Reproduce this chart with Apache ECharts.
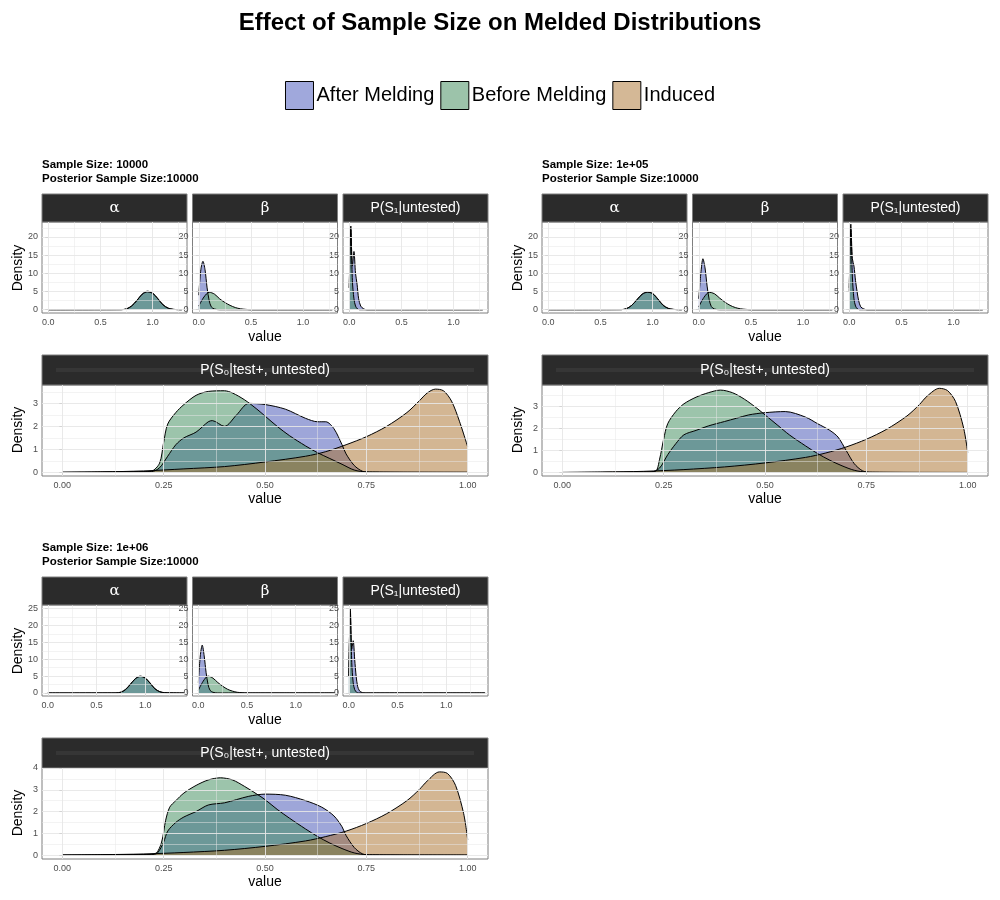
<!DOCTYPE html>
<html><head><meta charset="utf-8">
<script src="https://cdn.jsdelivr.net/npm/echarts@6/dist/echarts.min.js"></script>
<style>html,body{margin:0;padding:0;background:#fff}#c{width:1000px;height:900px}</style>
</head><body><div id="c"></div>
<script>
const seriesNames = ['After Melding','Before Melding','Induced'];
const groupTitles = [['Sample Size: 10000','Posterior Sample Size:10000'],['Sample Size: 1e+05','Posterior Sample Size:10000'],['Sample Size: 1e+06','Posterior Sample Size:10000']];
const topPanelLabels = ['α','β','P(S₁|untested)'];
const bottomPanelLabel = 'P(S₀|test+, untested)';
const topTicksX = [0,0.5,1.0];
const bottomTicksX = [0,0.25,0.5,0.75,1.0];
const topTicksY = [[0,5,10,15,20],[0,5,10,15,20],[0,5,10,15,20,25]];
const bottomTicksY = [[0,1,2,3],[0,1,2,3],[0,1,2,3,4]];

// Group 1: Sample Size 10000
const g1AlphaAfter = [[0,0],[0.7,0.02],[0.75,0.2],[0.8,1],[0.85,2.5],[0.9,4.3],[0.95,5.1],[1.0,4.6],[1.05,3],[1.1,1.3],[1.15,0.4],[1.2,0.1],[1.28,0]];
const g1AlphaBefore = [[0,0],[0.7,0.02],[0.75,0.25],[0.8,1.1],[0.85,2.6],[0.9,4.2],[0.95,4.9],[1.0,4.5],[1.05,3.1],[1.1,1.4],[1.15,0.45],[1.2,0.1],[1.28,0]];
const g1BetaAfter = [[0,4],[0.02,11],[0.04,13.3],[0.06,11],[0.08,6],[0.1,2.5],[0.12,0.8],[0.15,0.2],[0.2,0],[1.28,0]];
const g1BetaBefore = [[0,1],[0.05,3.5],[0.1,4.8],[0.15,4.3],[0.2,3],[0.25,2],[0.3,1.2],[0.35,0.6],[0.4,0.25],[0.45,0.1],[0.5,0],[1.28,0]];
const g1S1After = [[0,6],[0.015,22],[0.03,12],[0.045,16],[0.06,10],[0.075,7],[0.09,3],[0.11,1],[0.14,0.2],[0.17,0],[1.28,0]];
const g1S1Before = [[0,6],[0.015,23],[0.03,8],[0.045,3],[0.06,1],[0.08,0.2],[0.1,0],[1.28,0]];
const g1S0After = [[0,0],[0.22,0.03],[0.24,0.2],[0.26,0.7],[0.28,1.2],[0.3,1.5],[0.33,1.75],[0.36,2.2],[0.37,2.25],[0.4,2.0],[0.43,2.5],[0.46,3.0],[0.5,2.95],[0.55,2.75],[0.6,2.35],[0.63,2.2],[0.65,2.2],[0.67,1.9],[0.69,1.2],[0.7,0.8],[0.72,0.3],[0.74,0.05],[0.76,0],[1,0]];
const g1S0Before = [[0,0],[0.2,0.03],[0.22,0.05],[0.24,0.4],[0.25,1.3],[0.26,2.1],[0.28,2.6],[0.3,2.95],[0.33,3.35],[0.36,3.52],[0.4,3.55],[0.42,3.45],[0.45,3.15],[0.48,2.75],[0.5,2.45],[0.53,2.0],[0.56,1.6],[0.6,1.15],[0.63,0.85],[0.66,0.6],[0.69,0.35],[0.72,0.1],[0.75,0.02],[1,0]];
const g1S0Induced = [[0,0],[0.1,0.02],[0.2,0.06],[0.3,0.15],[0.4,0.25],[0.5,0.45],[0.6,0.7],[0.65,0.9],[0.7,1.2],[0.75,1.55],[0.8,2.0],[0.85,2.6],[0.88,3.1],[0.9,3.45],[0.92,3.62],[0.94,3.55],[0.96,3.1],[0.98,2.2],[1.0,1.1]];

// Group 2: Sample Size 1e+05
const g2AlphaAfter = [[0,0],[0.7,0.02],[0.75,0.3],[0.8,1.2],[0.85,2.7],[0.9,4.3],[0.95,4.9],[1.0,4.4],[1.05,2.9],[1.1,1.2],[1.15,0.35],[1.2,0.08],[1.28,0]];
const g2AlphaBefore = [[0,0],[0.7,0.03],[0.75,0.3],[0.8,1.2],[0.85,2.8],[0.9,4.2],[0.95,4.8],[1.0,4.5],[1.05,3.0],[1.1,1.3],[1.15,0.4],[1.2,0.1],[1.28,0]];
const g2BetaAfter = [[0,3],[0.02,10],[0.04,14],[0.06,11.5],[0.08,6.5],[0.1,2.8],[0.12,0.9],[0.15,0.2],[0.2,0],[1.28,0]];
const g2BetaBefore = [[0,0.8],[0.05,3.4],[0.1,4.8],[0.15,4.4],[0.2,3.2],[0.25,2.1],[0.3,1.2],[0.35,0.6],[0.4,0.25],[0.45,0.1],[0.5,0],[1.28,0]];
const g2S1After = [[0,5],[0.015,23.5],[0.03,14],[0.045,12],[0.06,8],[0.075,5],[0.09,2.5],[0.11,0.8],[0.14,0.2],[0.17,0],[1.28,0]];
const g2S1Before = [[0,6],[0.015,22],[0.03,9],[0.045,3],[0.06,1],[0.08,0.2],[0.1,0],[1.28,0]];
const g2S0After = [[0,0],[0.22,0.02],[0.24,0.2],[0.26,0.8],[0.28,1.3],[0.3,1.7],[0.33,1.9],[0.36,2.1],[0.4,2.3],[0.43,2.45],[0.46,2.6],[0.5,2.7],[0.55,2.75],[0.6,2.5],[0.63,2.2],[0.66,1.9],[0.68,1.6],[0.7,1.0],[0.72,0.4],[0.74,0.08],[0.76,0],[1,0]];
const g2S0Before = [[0,0],[0.2,0.02],[0.23,0.06],[0.24,0.6],[0.25,1.5],[0.26,2.2],[0.28,2.75],[0.3,3.1],[0.33,3.4],[0.36,3.6],[0.39,3.72],[0.42,3.6],[0.45,3.3],[0.48,2.9],[0.5,2.6],[0.53,2.15],[0.56,1.7],[0.6,1.2],[0.63,0.85],[0.66,0.55],[0.69,0.3],[0.72,0.1],[0.75,0.02],[1,0]];
const g2S0Induced = [[0,0],[0.1,0.02],[0.2,0.05],[0.3,0.13],[0.4,0.25],[0.5,0.43],[0.6,0.68],[0.65,0.88],[0.7,1.15],[0.75,1.5],[0.8,1.95],[0.85,2.55],[0.88,3.05],[0.9,3.45],[0.93,3.8],[0.95,3.7],[0.97,3.2],[0.99,2.0],[1.0,0.9]];

// Group 3: Sample Size 1e+06
const g3AlphaAfter = [[0,0],[0.7,0.02],[0.75,0.2],[0.8,1],[0.85,2.6],[0.9,4.3],[0.95,5.0],[1.0,4.4],[1.05,2.9],[1.1,1.2],[1.15,0.35],[1.2,0.08],[1.4,0]];
const g3AlphaBefore = [[0,0],[0.7,0.02],[0.75,0.25],[0.8,1.1],[0.85,2.7],[0.9,4.2],[0.95,4.9],[1.0,4.5],[1.05,3.0],[1.1,1.3],[1.15,0.4],[1.2,0.1],[1.4,0]];
const g3BetaAfter = [[0,3],[0.02,11],[0.04,14.2],[0.06,11],[0.08,6],[0.1,2.5],[0.12,0.8],[0.15,0.2],[0.2,0],[1.4,0]];
const g3BetaBefore = [[0,0.8],[0.05,3.5],[0.1,5],[0.15,4.4],[0.2,3.1],[0.25,2],[0.3,1.1],[0.35,0.55],[0.4,0.2],[0.45,0.08],[0.5,0],[1.4,0]];
const g3S1After = [[0,5],[0.015,24],[0.03,13],[0.045,15.5],[0.06,10],[0.075,5],[0.09,2],[0.11,0.6],[0.14,0.1],[0.17,0],[1.4,0]];
const g3S1Before = [[0,5],[0.015,25],[0.03,9],[0.045,3],[0.06,1],[0.08,0.2],[0.1,0],[1.4,0]];
const g3S0After = [[0,0],[0.22,0.02],[0.235,0.1],[0.25,0.6],[0.26,1.1],[0.28,1.5],[0.3,1.75],[0.33,2.0],[0.36,2.3],[0.4,2.4],[0.43,2.55],[0.46,2.7],[0.5,2.8],[0.55,2.75],[0.6,2.5],[0.64,2.2],[0.67,1.8],[0.69,1.3],[0.7,0.9],[0.72,0.35],[0.74,0.06],[0.76,0],[1,0]];
const g3S0Before = [[0,0],[0.2,0.03],[0.23,0.08],[0.245,0.6],[0.255,1.6],[0.265,2.2],[0.28,2.5],[0.3,2.85],[0.33,3.2],[0.36,3.45],[0.39,3.55],[0.42,3.45],[0.45,3.15],[0.48,2.8],[0.5,2.55],[0.53,2.1],[0.56,1.7],[0.6,1.2],[0.63,0.85],[0.66,0.55],[0.69,0.3],[0.72,0.1],[0.75,0.02],[1,0]];
const g3S0Induced = [[0,0],[0.1,0.02],[0.2,0.05],[0.3,0.12],[0.4,0.22],[0.5,0.4],[0.6,0.65],[0.65,0.85],[0.7,1.1],[0.75,1.45],[0.8,1.9],[0.85,2.5],[0.88,3.0],[0.9,3.4],[0.93,3.82],[0.95,3.75],[0.97,3.2],[0.99,1.9],[1.0,0.7]];

const groups = [
  {top:[[g1AlphaAfter,g1AlphaBefore],[g1BetaAfter,g1BetaBefore],[g1S1After,g1S1Before]], bottom:[g1S0After,g1S0Before,g1S0Induced]},
  {top:[[g2AlphaAfter,g2AlphaBefore],[g2BetaAfter,g2BetaBefore],[g2S1After,g2S1Before]], bottom:[g2S0After,g2S0Before,g2S0Induced]},
  {top:[[g3AlphaAfter,g3AlphaBefore],[g3BetaAfter,g3BetaBefore],[g3S1After,g3S1Before]], bottom:[g3S0After,g3S0Before,g3S0Induced]}
];

// styling / layout
const fills = ['rgba(62,78,180,0.5)','rgba(57,137,88,0.5)','rgba(168,110,40,0.5)'];
const keys = ['#a0a8dc','#9cc3aa','#d4b896'];
const origins = [[42,0],[542,0],[42,383]];
const topXRange = [[-0.06,1.33],[-0.06,1.33],[-0.06,1.43]];
const topYRange = [[-0.9,24.1],[-0.9,24.1],[-0.9,26.1]];
const botYRange = [[-0.16,3.8],[-0.16,3.95],[-0.18,4.0]];
const FONT = 'Liberation Sans, Arial, sans-serif';

const grids=[], xAxes=[], yAxes=[], series=[], graphics=[];
function addPanel(left, top, w, h, xr, yr, xt, yt, curves, names, labelFmt){
  const idx = grids.length;
  grids.push({left, top, width:w, height:h, show:true, borderColor:'#7f7f7f', borderWidth:1, backgroundColor:'#fff'});
  xAxes.push({type:'value', gridIndex:idx, min:xr[0], max:xr[1], splitLine:{show:false},
    axisLine:{show:false}, axisTick:{show:true, customValues:xt, length:3, lineStyle:{color:'#333'}},
    axisLabel:{customValues:xt, fontSize:9, color:'#4d4d4d', fontFamily:FONT, margin:5, formatter:labelFmt}});
  yAxes.push({type:'value', gridIndex:idx, min:yr[0], max:yr[1], splitLine:{show:false},
    axisLine:{show:false}, axisTick:{show:true, customValues:yt, length:3, lineStyle:{color:'#333'}},
    axisLabel:{customValues:yt, fontSize:9, color:'#4d4d4d', fontFamily:FONT, margin:4}});
  // grid lines (major + minor)
  const gl=[];
  const xs=[]; for(let i=0;i<xt.length;i++){xs.push({v:xt[i],w:0.9}); if(i<xt.length-1) xs.push({v:(xt[i]+xt[i+1])/2,w:0.5});}
  if (xt[xt.length-1]+ (xt[1]-xt[0])/2 < xr[1]) xs.push({v:xt[xt.length-1]+(xt[1]-xt[0])/2,w:0.5});
  const ys=[]; for(let i=0;i<yt.length;i++){ys.push({v:yt[i],w:0.9}); if(i<yt.length-1) ys.push({v:(yt[i]+yt[i+1])/2,w:0.5});}
  if (yt[yt.length-1]+(yt[1]-yt[0])/2 < yr[1]) ys.push({v:yt[yt.length-1]+(yt[1]-yt[0])/2,w:0.5});
  xs.forEach(o=>gl.push({xAxis:o.v, lineStyle:{width:o.w}}));
  ys.forEach(o=>gl.push({yAxis:o.v, lineStyle:{width:o.w}}));
  series.push({type:'line', xAxisIndex:idx, yAxisIndex:idx, data:[], silent:true,
    markLine:{silent:true, symbol:'none', label:{show:false}, animation:false, lineStyle:{color:'#e6e6e6', type:'solid'}, data:gl}});
  curves.forEach((c,k)=>{
    series.push({type:'line', name:names[k], xAxisIndex:idx, yAxisIndex:idx, data:c, smooth:0.3,
      showSymbol:false, symbol:'none', animation:false,
      lineStyle:{color:'#000', width:1}, itemStyle:{color:keys[k]},
      areaStyle:{color:fills[k], opacity:1}});
  });
}
function strip(left, top, w, h, text, serif, line){
  graphics.push({type:'rect', shape:{x:left, y:top, width:w, height:h}, style:{fill:'#2b2b2b', stroke:'#7f7f7f', lineWidth:1}, silent:true});
  if(line) graphics.push({type:'rect', shape:{x:left+14, y:top+h/2-2, width:w-28, height:4}, style:{fill:'#363636'}, silent:true});
  graphics.push({type:'text', x:left+w/2, y:top+h/2, style:{text, fill:'#fff', fontSize:serif?15:14, fontFamily:serif?'DejaVu Serif, serif':FONT, align:'center', verticalAlign:'middle'}, silent:true});
}
function txt(x,y,text,opt){ graphics.push({type:'text', x, y, silent:true, style:Object.assign({text, fill:'#000', fontFamily:FONT}, opt)}); }

groups.forEach((g,gi)=>{
  const [ox,oy] = origins[gi];
  txt(ox, oy+158, groupTitles[gi][0]+'\n'+groupTitles[gi][1], {fontSize:11.5, fontWeight:'bold', lineHeight:14});
  for(let p=0;p<3;p++){
    const l = ox + p*150.5;
    strip(l, oy+194, 145, 28, topPanelLabels[p], p<2, false);
    addPanel(l, oy+222, 145, 91, topXRange[gi], topYRange[gi], topTicksX, topTicksY[gi], g.top[p], seriesNames.slice(0,2), v=>v.toFixed(1));
  }
  txt(ox+223, oy+337, 'value', {fontSize:14, align:'center', verticalAlign:'middle'});
  txt(ox-24, oy+268, 'Density', {fontSize:14, align:'center', verticalAlign:'middle'});
  graphics[graphics.length-1].rotation = Math.PI/2;
  strip(ox, oy+355, 446, 30, bottomPanelLabel, false, true);
  addPanel(ox, oy+385, 446, 91, [-0.05,1.05], botYRange[gi], bottomTicksX, bottomTicksY[gi], g.bottom, seriesNames, v=>v.toFixed(2));
  txt(ox+223, oy+499, 'value', {fontSize:14, align:'center', verticalAlign:'middle'});
  txt(ox-24, oy+430, 'Density', {fontSize:14, align:'center', verticalAlign:'middle'});
  graphics[graphics.length-1].rotation = Math.PI/2;
});

const chart = echarts.init(document.getElementById('c'));
chart.setOption({
  animation:false,
  backgroundColor:'#fff',
  title:{text:'Effect of Sample Size on Melded Distributions', left:'center', top:6, textStyle:{fontSize:24, fontWeight:'bold', color:'#000', fontFamily:FONT}},
  legend:{data:seriesNames, top:76, left:'center', icon:'rect', itemWidth:28, itemHeight:28, itemGap:6,
    itemStyle:{borderColor:'#000', borderWidth:1}, textStyle:{fontSize:20, color:'#000', fontFamily:FONT, padding:[0,0,0,-2]}, selectedMode:false},
  grid:grids, xAxis:xAxes, yAxis:yAxes, series, graphic:graphics
});
</script></body></html>
